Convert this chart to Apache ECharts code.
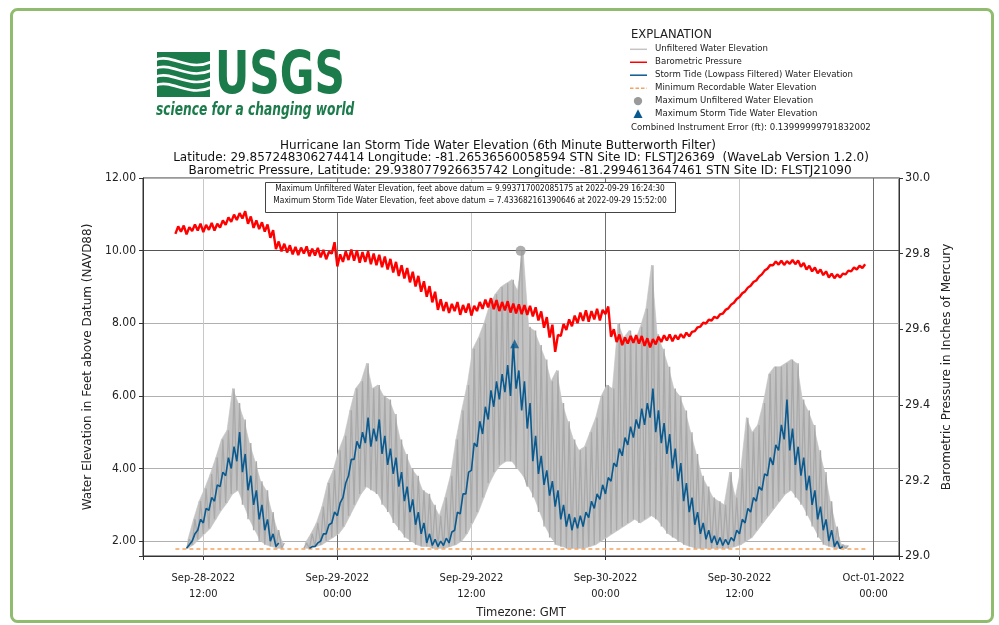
<!DOCTYPE html>
<html><head><meta charset="utf-8">
<script src="https://cdn.jsdelivr.net/npm/echarts@6/dist/echarts.min.js"></script>
<style>html,body{margin:0;padding:0;background:#fff}#chart{width:999px;height:625px}</style>
</head><body><div id="chart"></div>
<script>
// ---------------- data ----------------
const startISO = '2022-09-28T09:30:00Z';   // first 30-minute bin
const binMinutes = 30;                       // each bin holds two readings, 15 min apart

// Unfiltered water elevation (ft), two readings per bin; null = sensor dry / no record
const unfilteredPairs = [
 null,null,[1.80,2.05],[1.90,2.60],[2.05,3.10],[2.20,3.45],[2.35,3.85],[2.60,4.30],[2.85,4.80],[3.05,5.05],
 [3.30,6.20],[3.40,5.80],[3.00,5.35],[2.60,4.70],[2.30,4.20],[2.00,3.65],[1.90,3.40],[1.85,2.80],[1.80,2.30],[1.80,1.95],
 null,null,null,[1.80,1.95],[1.80,2.20],[1.85,2.50],[1.90,2.95],[2.00,3.60],[2.10,3.95],[2.20,4.50],
 [2.40,4.90],[2.70,5.60],[3.00,6.20],[3.30,6.40],[3.50,6.90],[3.40,6.20],[3.30,6.30],[3.00,6.00],[2.80,5.90],[2.50,5.50],
 [2.30,4.80],[2.10,4.40],[2.00,4.00],[1.90,3.80],[1.85,3.40],[1.85,3.30],[1.80,3.00],[1.80,2.70],[1.80,3.20],[1.85,3.80],
 [1.90,4.80],[2.00,5.60],[2.20,6.30],[2.50,7.30],[2.80,7.60],[3.20,8.00],[3.60,8.50],[3.90,8.80],[4.10,9.00],[4.20,9.10],
 [4.20,9.20],[4.00,8.90],[9.99,3.80],[3.50,7.90],[3.20,7.80],[2.80,7.40],[2.40,7.00],[2.10,6.40],[1.90,6.70],[1.85,5.80],
 [1.80,5.30],[1.80,4.80],[1.80,4.50],[1.80,4.60],[1.85,5.00],[1.90,5.40],[2.00,6.00],[2.10,6.30],[2.20,6.20],[2.30,8.00],
 [2.40,7.60],[2.50,7.80],[2.60,7.50],[2.50,7.90],[2.60,8.40],[2.70,9.60],[2.60,7.70],[2.40,7.30],[2.20,6.80],[2.10,6.20],
 [2.00,6.00],[1.90,5.60],[1.85,5.00],[1.80,4.40],[1.80,3.80],[1.80,3.50],[1.80,3.20],[1.80,3.10],[1.80,3.00],[1.80,3.90],
 [1.85,3.20],[1.90,4.00],[2.00,5.40],[2.10,5.00],[2.30,5.20],[2.50,5.80],[2.70,6.60],[2.90,6.80],[3.10,6.80],[3.30,6.90],
 [3.40,7.00],[3.20,6.90],[3.00,5.90],[2.70,5.60],[2.40,5.20],[2.10,4.50],[1.90,3.90],[1.85,3.10],[1.80,2.40],[1.80,1.90],
 [1.80,1.88],null,null,null
];

// Storm tide (lowpass filtered) water elevation (ft)
const stormTidePairs = [
 null,null,[1.80,1.90],[2.00,2.20],[2.30,2.60],[2.50,2.90],[2.85,3.20],[3.10,3.55],[3.50,3.90],[3.80,4.30],
 [4.00,4.60],[4.20,5.00],[3.90,4.40],[3.40,3.80],[3.00,3.40],[2.60,3.00],[2.30,2.60],[2.00,2.20],[1.85,1.95],null,
 null,null,null,null,[1.80,1.85],[1.85,1.95],[2.00,2.20],[2.20,2.45],[2.50,2.80],[2.70,3.05],
 [3.20,3.60],[3.80,4.25],[4.25,4.75],[4.55,5.00],[4.70,5.40],[4.60,5.10],[4.75,5.35],[4.40,4.90],[4.10,4.55],[3.85,4.30],
 [3.50,3.90],[3.10,3.50],[2.80,3.15],[2.45,2.80],[2.20,2.50],[1.95,2.20],[1.88,2.05],[1.85,2.00],[1.88,2.08],[1.95,2.25],
 [2.30,2.80],[2.75,3.30],[3.30,3.90],[3.95,4.70],[4.60,5.30],[4.95,5.70],[5.35,6.15],[5.70,6.40],[5.90,6.60],[6.10,6.85],
 [6.00,7.43],[6.20,6.70],[5.60,6.40],[5.10,5.80],[4.20,4.90],[3.85,4.35],[3.55,3.95],[3.25,3.65],[2.95,3.40],[2.60,3.00],
 [2.40,2.75],[2.30,2.65],[2.35,2.70],[2.40,2.80],[2.65,3.10],[2.90,3.30],[3.15,3.55],[3.30,3.75],[3.65,4.15],[4.05,4.55],
 [4.35,4.85],[4.65,5.15],[4.85,5.35],[5.10,5.65],[5.20,5.80],[5.40,6.20],[5.00,5.60],[4.70,5.25],[4.40,4.95],[4.00,4.55],
 [3.65,4.15],[3.10,3.60],[2.80,3.20],[2.45,2.80],[2.20,2.50],[2.05,2.30],[1.95,2.15],[1.90,2.10],[1.88,2.05],[1.90,2.10],
 [2.00,2.30],[2.20,2.60],[2.50,2.90],[2.80,3.20],[3.10,3.50],[3.40,3.85],[3.80,4.30],[4.10,4.65],[4.50,5.20],[4.80,5.90],
 [4.50,5.10],[4.10,4.60],[3.80,4.30],[3.40,3.80],[3.00,3.40],[2.60,2.95],[2.30,2.60],[2.00,2.30],[1.85,2.00],[1.80,1.85],
 null,null,null,null
];

// Barometric pressure (inches of mercury)
const baroPairs = [
 [29.852,29.872],[29.858,29.874],[29.851,29.870],[29.860,29.877],[29.861,29.879],[29.857,29.876],[29.863,29.881],[29.861,29.879],[29.869,29.888],[29.876,29.896],
 [29.884,29.903],[29.889,29.907],[29.893,29.912],[29.879,29.898],[29.868,29.888],[29.865,29.883],[29.858,29.877],[29.842,29.862],[29.812,29.832],[29.806,29.826],
 [29.803,29.822],[29.798,29.818],[29.796,29.816],[29.800,29.819],[29.793,29.813],[29.795,29.815],[29.790,29.810],[29.785,29.805],[29.800,29.830],[29.766,29.798],
 [29.778,29.806],[29.783,29.811],[29.781,29.809],[29.776,29.804],[29.778,29.806],[29.772,29.800],[29.769,29.797],[29.764,29.792],[29.758,29.786],[29.750,29.778],
 [29.741,29.769],[29.734,29.762],[29.724,29.752],[29.713,29.741],[29.699,29.727],[29.686,29.714],[29.671,29.699],[29.651,29.679],[29.648,29.672],[29.643,29.667],
 [29.648,29.672],[29.638,29.664],[29.644,29.668],[29.636,29.662],[29.648,29.672],[29.654,29.678],[29.658,29.682],[29.653,29.677],[29.648,29.672],[29.650,29.674],
 [29.644,29.668],[29.642,29.666],[29.640,29.664],[29.638,29.662],[29.634,29.658],[29.623,29.647],[29.604,29.632],[29.578,29.612],[29.540,29.585],[29.582,29.614],
 [29.598,29.626],[29.608,29.636],[29.616,29.644],[29.622,29.650],[29.620,29.648],[29.626,29.654],[29.623,29.651],[29.640,29.660],[29.580,29.600],[29.566,29.586],
 [29.558,29.578],[29.562,29.582],[29.564,29.584],[29.562,29.582],[29.556,29.576],[29.552,29.574],[29.560,29.580],[29.566,29.584],[29.570,29.586],[29.568,29.584],
 [29.573,29.587],[29.577,29.591],[29.581,29.593],[29.595,29.605],[29.607,29.617],[29.615,29.625],[29.623,29.633],[29.629,29.639],[29.641,29.651],[29.655,29.665],
 [29.670,29.680],[29.685,29.695],[29.700,29.710],[29.715,29.725],[29.729,29.739],[29.745,29.755],[29.760,29.770],[29.769,29.779],[29.771,29.781],[29.770,29.780],
 [29.773,29.783],[29.772,29.782],[29.765,29.775],[29.758,29.768],[29.753,29.763],[29.748,29.758],[29.743,29.753],[29.737,29.747],[29.735,29.745],[29.737,29.747],
 [29.745,29.755],[29.753,29.763],[29.758,29.768],[29.762,29.772]
];

const minRecordable = 1.78;
const minRecordableSpan = ['2022-09-28T09:30:00Z', '2022-09-30T23:30:00Z'];
const maxUnfiltered = { time: '2022-09-29T16:24:30Z', value: 9.993717002085175 };
const maxStormTide  = { time: '2022-09-29T15:52:00Z', value: 7.433682161390646 };

const titleLines = [
  'Hurricane Ian Storm Tide Water Elevation (6th Minute Butterworth Filter)',
  'Latitude: 29.857248306274414 Longitude: -81.26536560058594 STN Site ID: FLSTJ26369  (WaveLab Version 1.2.0)',
  'Barometric Pressure, Latitude: 29.938077926635742 Longitude: -81.2994613647461 STN Site ID: FLSTJ21090'
];
const annotationLines = [
  'Maximum Unfiltered Water Elevation, feet above datum = 9.993717002085175 at 2022-09-29 16:24:30',
  'Maximum Storm Tide Water Elevation, feet above datum = 7.433682161390646 at 2022-09-29 15:52:00'
];
const legendLabels = [
  'Unfiltered Water Elevation',
  'Barometric Pressure',
  'Storm Tide (Lowpass Filtered) Water Elevation',
  'Minimum Recordable Water Elevation',
  'Maximum Unfiltered Water Elevation',
  'Maximum Storm Tide Water Elevation'
];
const instrumentError = 'Combined Instrument Error (ft): 0.13999999791832002';

// ---------------- styling ----------------
const FONT = '"DejaVu Sans", sans-serif';
const FONT_C = '"DejaVu Sans Condensed", "DejaVu Sans", sans-serif';
const GRAY = '#a9a9a9', GRAY_FILL = '#c3c3c3', RED = '#ff0000', BLUE = '#0a5a8f', ORANGE = '#f4a460', DOT = '#9a9a9a';
const USGS_GREEN = '#1b7b4a';
const MONTHS = ['Jan','Feb','Mar','Apr','May','Jun','Jul','Aug','Sep','Oct','Nov','Dec'];
const ORIGIN = Date.UTC(2022, 8, 28);      // axis unit origin
const UNIT = 12 * 3600 * 1000;             // one axis unit = 12 hours
const toX = ms => (ms - ORIGIN) / UNIT;
const t0 = Date.parse(startISO);
const binMs = binMinutes * 60000;

function pairsToData(pairs) {
  const out = [];
  pairs.forEach((p, i) => {
    for (let k = 0; k < 2; k++) {
      out.push([toX(t0 + i * binMs + k * binMs / 2), p ? p[k] : '-']);
    }
  });
  return out;
}
// envelope of the unfiltered readings between consecutive bins: [x, lo, hi, xNext, loNext, hiNext]
const bandSegments = [];
unfilteredPairs.forEach((p, i) => {
  const q = unfilteredPairs[i + 1];
  if (!p || !q) return;
  bandSegments.push([
    toX(t0 + i * binMs + binMs / 4), Math.min(p[0], p[1]), Math.max(p[0], p[1]),
    toX(t0 + (i + 1) * binMs + binMs / 4), Math.min(q[0], q[1]), Math.max(q[0], q[1])
  ]);
});

const pad = n => String(n).padStart(2, '0');
function xLabel(v) {
  if (Math.abs(v - Math.round(v)) > 1e-6) return '';
  const d = new Date(ORIGIN + Math.round(v) * UNIT);
  return MONTHS[d.getUTCMonth()] + '-' + pad(d.getUTCDate()) + '-' + d.getUTCFullYear() +
         '\n' + pad(d.getUTCHours()) + ':' + pad(d.getUTCMinutes());
}

const chart = echarts.init(document.getElementById('chart'), null, { renderer: 'canvas' });

// legend graphics
const legendGraphics = [];
const legX = 630, legTop = 49.3, legStep = 12.95;
legendGraphics.push({ type: 'text', left: 631, top: 28.5, style: { text: 'EXPLANATION', font: '11.6px ' + FONT, fill: '#222' } });
legendLabels.forEach((lab, i) => {
  const y = legTop + i * legStep;
  if (i <= 2) {
    legendGraphics.push({ type: 'line', shape: { x1: legX, y1: y, x2: legX + 17, y2: y },
      style: { stroke: ['#c4c4c4', RED, BLUE][i], lineWidth: 1.5 } });
  } else if (i === 3) {
    legendGraphics.push({ type: 'line', shape: { x1: legX, y1: y, x2: legX + 17, y2: y },
      style: { stroke: ORANGE, lineWidth: 1.5, lineDash: [3.5, 2] } });
  } else if (i === 4) {
    legendGraphics.push({ type: 'circle', shape: { cx: legX + 8, cy: y, r: 4.2 }, style: { fill: DOT } });
  } else {
    legendGraphics.push({ type: 'polygon', shape: { points: [[legX + 8, y - 4.8], [legX + 3.5, y + 4], [legX + 12.5, y + 4]] }, style: { fill: BLUE } });
  }
  legendGraphics.push({ type: 'text', left: 655, top: y - 5, style: { text: lab, font: '8.6px ' + FONT, fill: '#222' } });
});
legendGraphics.push({ type: 'text', left: 631, top: 123, style: { text: instrumentError, font: '8.6px ' + FONT, fill: '#222' } });

// USGS logo
const logo = [
  { type: 'rect', shape: { x: 157, y: 52, width: 53, height: 45 }, style: { fill: USGS_GREEN } }
];
[0, 1, 2, 3].forEach(k => {
  const y0 = 60 + k * 8.5;
  logo.push({ type: 'bezierCurve', shape: { x1: 155, y1: y0, cpx1: 172, cpy1: y0 - 7, cpx2: 188, cpy2: y0 + 12, x2: 211, y2: y0 + 2 },
    style: { stroke: '#fff', lineWidth: 2.6, fill: 'none' } });
});
logo.push({ type: 'text', x: 215, y: 107.3, scaleX: 0.81, originX: 0, originY: 0,
  style: { text: 'USGS', font: 'bold 58px "Liberation Sans Narrow", "DejaVu Sans Condensed", sans-serif', fill: USGS_GREEN, verticalAlign: 'bottom' } });
logo.push({ type: 'text', x: 156, y: 102, scaleX: 0.8, originX: 0, originY: 0,
  style: { text: 'science for a changing world', font: 'italic bold 17px "Liberation Sans Narrow", "DejaVu Sans Condensed", sans-serif', fill: USGS_GREEN } });

const option = {
  backgroundColor: '#fff',
  animation: false,
  textStyle: { fontFamily: FONT },
  grid: { left: 143, right: 100, top: 178, bottom: 69, show: true, borderColor: '#333', borderWidth: 1, backgroundColor: 'transparent' },
  xAxis: {
    type: 'value', min: 0.55, max: 6.19, splitNumber: 5,
    name: 'Timezone: GMT', nameLocation: 'middle', nameGap: 40,
    nameTextStyle: { fontSize: 11.6, color: '#222', fontFamily: FONT },
    axisLine: { show: true, lineStyle: { color: '#333' } },
    axisTick: { show: true, length: 4, lineStyle: { color: '#333' } },
    axisLabel: { formatter: xLabel, fontSize: 11, color: '#222', lineHeight: 16, margin: 14, fontFamily: FONT_C, showMinLabel: true, showMaxLabel: true },
    splitLine: { show: true, lineStyle: { color: ['#6e6e6e', '#c8c8c8'], width: 1 } }
  },
  yAxis: [
    {
      type: 'value', min: 1.59, max: 12, splitNumber: 5, position: 'left',
      name: 'Water Elevation in Feet above Datum (NAVD88)', nameLocation: 'middle', nameRotate: 90, nameGap: 34,
      nameTextStyle: { fontSize: 12, color: '#222', fontFamily: FONT },
      axisLine: { show: true, lineStyle: { color: '#333' } },
      axisTick: { show: true, length: 4, lineStyle: { color: '#333' } },
      axisLabel: { fontSize: 12, color: '#222', margin: 7, fontFamily: FONT_C,
        formatter: v => (Math.abs(v / 2 - Math.round(v / 2)) < 1e-6 ? v.toFixed(2) : '') },
      splitLine: { show: true, lineStyle: { color: ['#b0b0b0', '#b0b0b0', '#b0b0b0', '#b0b0b0', '#b0b0b0', '#555555', '#b0b0b0'], width: 1 } }
    },
    {
      type: 'value', min: 29, max: 30, interval: 0.2, position: 'right',
      name: 'Barometric Pressure in Inches of Mercury', nameLocation: 'middle', nameRotate: 90, nameGap: 28,
      nameTextStyle: { fontSize: 12, color: '#222', fontFamily: FONT },
      axisLine: { show: true, lineStyle: { color: '#333' } },
      axisTick: { show: true, length: 4, lineStyle: { color: '#333' } },
      axisLabel: { fontSize: 12.5, color: '#222', margin: 6, fontFamily: FONT_C, formatter: v => v.toFixed(1) },
      splitLine: { show: false }
    }
  ],
  series: [
    { name: 'unfiltered-envelope', type: 'custom', yAxisIndex: 0, data: bandSegments, silent: true, z: 1,
      encode: { x: [0, 3], y: [1, 2, 4, 5] },
      renderItem: (params, api) => {
        const a = api.coord([api.value(0), api.value(1)]);
        const b = api.coord([api.value(0), api.value(2)]);
        const c = api.coord([api.value(3), api.value(5)]);
        const d = api.coord([api.value(3), api.value(4)]);
        return { type: 'polygon', shape: { points: [a, b, c, d] },
          style: { fill: GRAY_FILL, stroke: GRAY_FILL, lineWidth: 0.6 } };
      } },
    { name: legendLabels[0], type: 'line', yAxisIndex: 0, data: pairsToData(unfilteredPairs), showSymbol: false, symbol: 'none',
      lineStyle: { color: GRAY, width: 1.3, join: 'bevel' }, connectNulls: false, z: 2 },
    { name: legendLabels[3], type: 'line', yAxisIndex: 0,
      data: minRecordableSpan.map(s => [toX(Date.parse(s)), minRecordable]), symbol: 'none',
      lineStyle: { color: ORANGE, width: 1.5, type: [4, 3] }, z: 3 },
    { name: legendLabels[2], type: 'line', yAxisIndex: 0, data: pairsToData(stormTidePairs), showSymbol: false, symbol: 'none',
      lineStyle: { color: BLUE, width: 1.6 }, connectNulls: false, z: 4 },
    { name: legendLabels[1], type: 'line', yAxisIndex: 1, data: pairsToData(baroPairs), showSymbol: false, symbol: 'none',
      lineStyle: { color: RED, width: 2.4 }, z: 5 },
    { name: legendLabels[4], type: 'scatter', yAxisIndex: 0, symbol: 'circle', symbolSize: 10,
      data: [[toX(Date.parse(maxUnfiltered.time)), maxUnfiltered.value]], itemStyle: { color: DOT }, z: 6 },
    { name: legendLabels[5], type: 'scatter', yAxisIndex: 0, symbol: 'triangle', symbolSize: 9,
      data: [[toX(Date.parse(maxStormTide.time)), maxStormTide.value]], itemStyle: { color: BLUE }, z: 6 }
  ],
  graphic: [
    { type: 'rect', shape: { x: 11.5, y: 9.5, width: 981, height: 612, r: 6 }, style: { fill: 'none', stroke: '#8fbc6f', lineWidth: 3 }, z: 100 },
    { type: 'text', x: 498, y: 139.5, style: { text: titleLines[0], font: '12px ' + FONT, fill: '#111', textAlign: 'center' }, z: 100 },
    { type: 'text', x: 521, y: 152, style: { text: titleLines[1], font: '12px ' + FONT, fill: '#111', textAlign: 'center' }, z: 100 },
    { type: 'text', x: 520, y: 164.5, style: { text: titleLines[2], font: '12px ' + FONT, fill: '#111', textAlign: 'center' }, z: 100 },
    { type: 'rect', shape: { x: 265.5, y: 182.5, width: 410, height: 30 }, style: { fill: '#fff', stroke: '#444', lineWidth: 1 }, z: 100 },
    { type: 'text', x: 470, y: 185, style: { text: annotationLines[0], font: '8.3px ' + FONT_C, fill: '#111', textAlign: 'center' }, z: 101 },
    { type: 'text', x: 470, y: 197, style: { text: annotationLines[1], font: '8.3px ' + FONT_C, fill: '#111', textAlign: 'center' }, z: 101 }
  ].concat(legendGraphics.map(g => Object.assign({ z: 100 }, g)), logo.map(g => Object.assign({ z: 100 }, g)))
};
chart.setOption(option);
</script></body></html>
